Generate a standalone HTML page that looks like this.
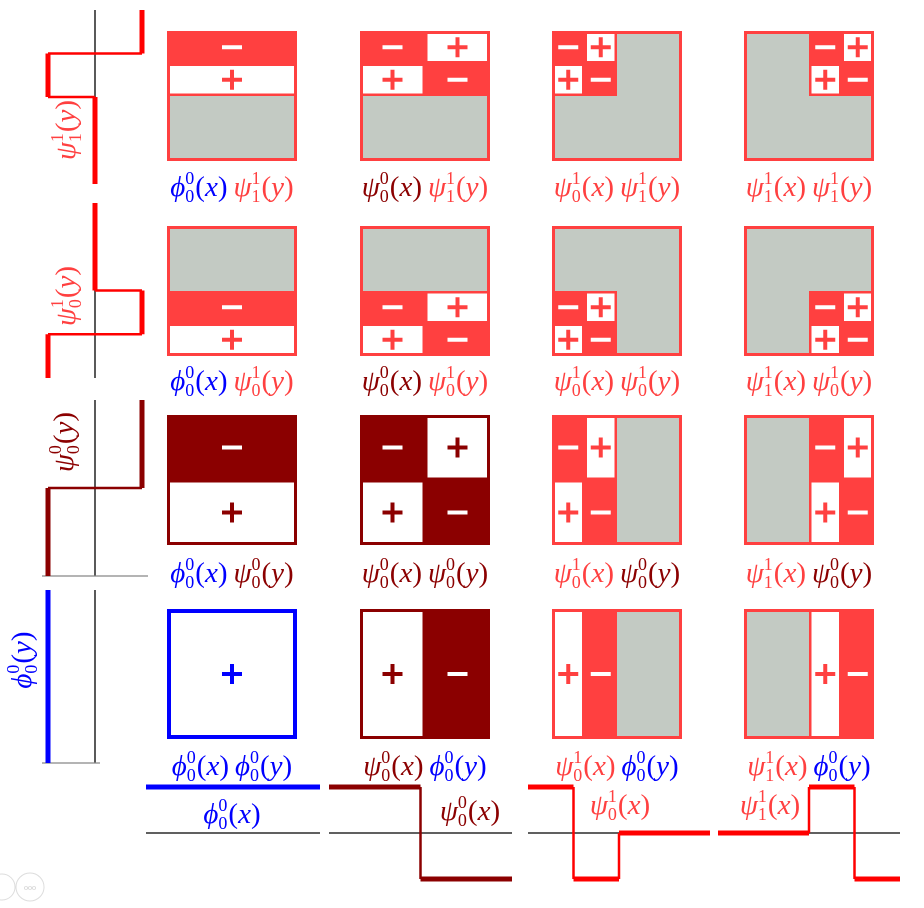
<!DOCTYPE html>
<html><head><meta charset="utf-8"><style>
html,body{margin:0;padding:0;background:#fff;}
svg{display:block;}
text{font-family:"Liberation Serif",serif;}
</style></head><body>
<svg id="chart" width="924" height="908" viewBox="0 0 924 908" xmlns="http://www.w3.org/2000/svg">
<circle cx="2" cy="887" r="13" fill="none" stroke="#ddd" stroke-width="1"/>
<circle cx="30" cy="887" r="14" fill="none" stroke="#ddd" stroke-width="1"/>
<text x="30" y="890" font-size="8" fill="#ccc" text-anchor="middle">ooo</text>
</svg>
<script>
// interval data: [start, end, sign]
const phi00 = [[0,1,1]];
const psi00 = [[0,0.5,1],[0.5,1,-1]];
const psi10 = [[0,0.25,1],[0.25,0.5,-1],[0.5,1,0]];
const psi11 = [[0,0.5,0],[0.5,0.75,1],[0.75,1,-1]];
const xFuncs = [phi00, psi00, psi10, psi11];
const yFuncs = [psi11, psi10, psi00, phi00];
const xNames = [["ϕ","0","0"],["ψ","0","0"],["ψ","1","0"],["ψ","1","1"]];
const yNames = [["ψ","1","1"],["ψ","1","0"],["ψ","0","0"],["ϕ","0","0"]];
const xLevels = [-1,0,1,1];
const yLevels = [1,1,0,-1];

const NS="http://www.w3.org/2000/svg";
const svg=document.getElementById('chart');
const colorOf=l=>l<0?'#0000ff':(l===0?'#8b0000':'#ff4040');
const lineColorOf=l=>l<0?'#0000ff':(l===0?'#8b0000':'#ff0000');
function el(tag,attrs,parent){const e=document.createElementNS(NS,tag);for(const k in attrs)e.setAttribute(k,attrs[k]);(parent||svg).appendChild(e);return e;}

const colX=[167,360,552,744];
const rowY=[31,226,415,609];
const S=130;
const labelY=[196,390,582,775];

function funcLabel(g,x,y,nm,arg,color,size){
  const t=el('text',{x:x,y:y,'font-size':size,fill:color,'font-style':'italic','font-family':'"DejaVu Serif",serif'},g);
  t.textContent=nm[0];
  let w=t.getComputedTextLength();
  const sx=x+w;
  const s1=el('text',{x:sx,y:y-size*0.42,'font-size':size*0.62,fill:color},g); s1.textContent=nm[1];
  const s2=el('text',{x:sx,y:y+size*0.2,'font-size':size*0.62,fill:color},g); s2.textContent=nm[2];
  const sw=Math.max(s1.getComputedTextLength(),s2.getComputedTextLength());
  const a=el('text',{x:sx+sw+1,y:y,'font-size':size,fill:color},g);
  a.innerHTML='(<tspan font-style="italic">'+arg+'</tspan>)';
  return (sx+sw+1+a.getComputedTextLength())-x;
}
function centeredLabel(parts,cx,y,size,name){
  const g=el('g',{});
  
  
  let x=0;
  parts.forEach((p,i)=>{x+=funcLabel(g,x,y,p.nm,p.arg,p.color,size)+(i<parts.length-1?6:0);});
  g.setAttribute('transform','translate('+(cx-x/2)+',0)');
  return g;
}

// squares
for(let r=0;r<4;r++)for(let c=0;c<4;c++){
  const fx=xFuncs[c], fy=yFuncs[r];
  const lvl=Math.max(xLevels[c],yLevels[r]);
  const col=colorOf(lvl);
  const x0=colX[c], y0=rowY[r];
  const g=el('g',{});
  
  
  el('rect',{x:x0,y:y0,width:S,height:S,fill:col},g);
  el('rect',{x:x0+3,y:y0+3,width:S-6,height:S-6,fill:'#c3cac3'},g);
  fx.forEach(ix=>fy.forEach(iy=>{
    if(ix[2]===0||iy[2]===0) return;
    const s=ix[2]*iy[2];
    const rx=x0+ix[0]*S, rw=(ix[1]-ix[0])*S;
    const ry=y0+(1-iy[1])*S, rh=(iy[1]-iy[0])*S;
    el('rect',{x:rx,y:ry,width:rw,height:rh,fill:col},g);
    if(s>0) el('rect',{x:rx+2.5,y:ry+2.5,width:rw-5,height:rh-5,fill:'#fff'},g);
    const cx=rx+rw/2, cy=ry+rh/2;
    const sc=s>0?col:'#fff';
    const sign=el('g',{},g);
    
    
    el('rect',{x:cx-10,y:cy-2,width:20,height:4,fill:sc},sign);
    if(s>0) el('rect',{x:cx-2,y:cy-10,width:4,height:20,fill:sc},sign);
  }));
  if(lvl<0) el('rect',{x:x0+2,y:y0+2,width:S-4,height:S-4,fill:'none',stroke:col,'stroke-width':4},g);
  else el('rect',{x:x0+1.5,y:y0+1.5,width:S-3,height:S-3,fill:'none',stroke:col,'stroke-width':3},g);
  centeredLabel([{nm:xNames[c],arg:'x',color:colorOf(xLevels[c])},{nm:yNames[r],arg:'y',color:colorOf(yLevels[r])}],x0+S/2,labelY[r],29,'product-label-r'+(r+1)+'-c'+(c+1));
}

// bottom x plots
const pX0=[146,329,528,718], pX1=[320,512,710,900];
const baseY=833, amp=46;
const xLabPos=[[232,823],[470,820],[620,814],[770,814]];
for(let c=0;c<4;c++){
  const g=el('g',{});
  
  
  const X=t=>pX0[c]+t*(pX1[c]-pX0[c]);
  const Y=v=>baseY-v*amp;
  el('line',{x1:pX0[c],y1:baseY,x2:pX1[c],y2:baseY,stroke:'#000','stroke-width':1.3},g);
  const lc=lineColorOf(xLevels[c]);
  const f=xFuncs[c];
  f.forEach((iv,i)=>{
    el('line',{x1:X(iv[0]),y1:Y(iv[2]),x2:X(iv[1]),y2:Y(iv[2]),stroke:lc,'stroke-width':5},g);
    if(i>0) el('line',{x1:X(iv[0]),y1:Y(f[i-1][2]),x2:X(iv[0]),y2:Y(iv[2]),stroke:lc,'stroke-width':2.5},g);
  });
  centeredLabel([{nm:xNames[c],arg:'x',color:colorOf(xLevels[c])}],xLabPos[c][0],xLabPos[c][1],29,'x-function-label-'+(c+1));
}

// left y plots (value axis points left)
const pY0=[10,203,400,590], pY1=[184,378,576,763];
const axX=95;
const yLabPos=[[66,130],[66,296],[64,442],[22,660]];
for(let r=0;r<4;r++){
  const g=el('g',{});
  
  
  const Yp=t=>pY1[r]-t*(pY1[r]-pY0[r]);
  const Xv=v=>axX-v*47;
  el('line',{x1:axX,y1:pY0[r],x2:axX,y2:pY1[r],stroke:'#000','stroke-width':1.3},g);
  if(r>=2) el('line',{x1:Xv(1)-6,y1:pY1[r],x2:r===2?148:100,y2:pY1[r],stroke:'#888','stroke-width':1.2},g);
  const lc=lineColorOf(yLevels[r]);
  const f=yFuncs[r];
  f.forEach((iv,i)=>{
    el('line',{x1:Xv(iv[2]),y1:Yp(iv[0]),x2:Xv(iv[2]),y2:Yp(iv[1]),stroke:lc,'stroke-width':5},g);
    if(i>0) el('line',{x1:Xv(f[i-1][2]),y1:Yp(iv[0]),x2:Xv(iv[2]),y2:Yp(iv[0]),stroke:lc,'stroke-width':2.5},g);
  });
  const lg=centeredLabel([{nm:yNames[r],arg:'y',color:colorOf(yLevels[r])}],0,9,29,'y-function-label-'+(r+1));
  const wrap=el('g',{transform:'translate('+yLabPos[r][0]+','+yLabPos[r][1]+') rotate(-90)'});
  
  
  wrap.appendChild(lg);
}
</script>
</body></html>
